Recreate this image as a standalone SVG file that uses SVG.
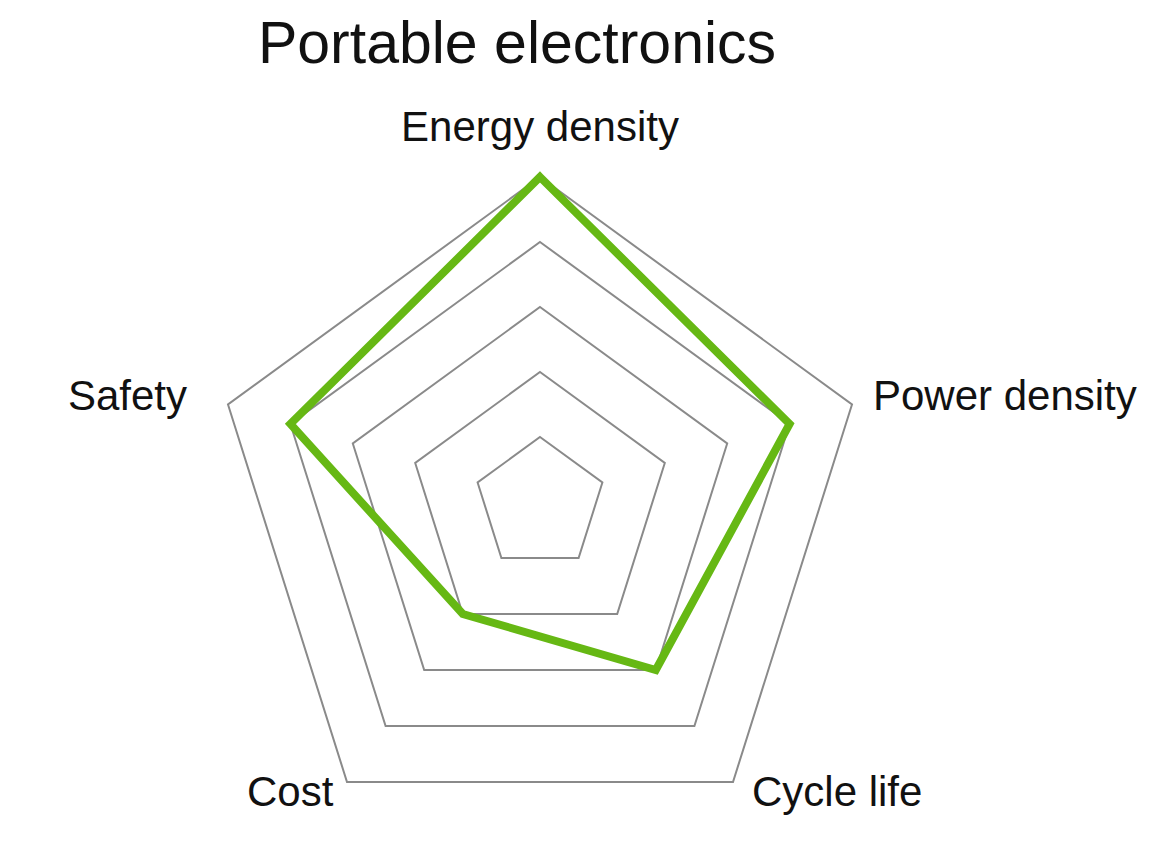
<svg xmlns="http://www.w3.org/2000/svg" width="1150" height="844" viewBox="0 0 1150 844">
<style>
.ring{fill:none;stroke:#8a8a8a;stroke-width:2}
.lbl{font-family:"Liberation Sans",Arial,sans-serif;font-size:42px;fill:#111}
.data{fill:none;stroke:#66b814;stroke-width:8;stroke-linejoin:miter}
</style>
<rect width="1150" height="844" fill="#fff"/>
<text class="lbl" x="517" y="63" text-anchor="middle" style="font-size:59px">Portable electronics</text>
<g id="grid">
<polygon class="ring" points="540,437 602.4,482.5 578.6,558 501.4,558 477.6,482.5"/>
<polygon class="ring" points="540,372 664.8,463 617.2,614 462.8,614 415.2,463"/>
<polygon class="ring" points="540,307 727.2,443.5 655.8,670 424.2,670 352.8,443.5"/>
<polygon class="ring" points="540,242 789.6,424 694.4,726 385.6,726 290.4,424"/>
<polygon class="ring" points="540,177 852,404.5 733,782 347,782 228,404.5"/>
</g>
<g id="series"><polygon class="data" points="540,177 789.6,424 655.8,670 462.8,614 290.4,424"/></g>
<g id="labels">
<text class="lbl" x="540" y="141" text-anchor="middle">Energy density</text>
<text class="lbl" x="873" y="410">Power density</text>
<text class="lbl" x="187" y="410" text-anchor="end">Safety</text>
<text class="lbl" x="247" y="806">Cost</text>
<text class="lbl" x="752" y="806">Cycle life</text>
</g>
</svg>
